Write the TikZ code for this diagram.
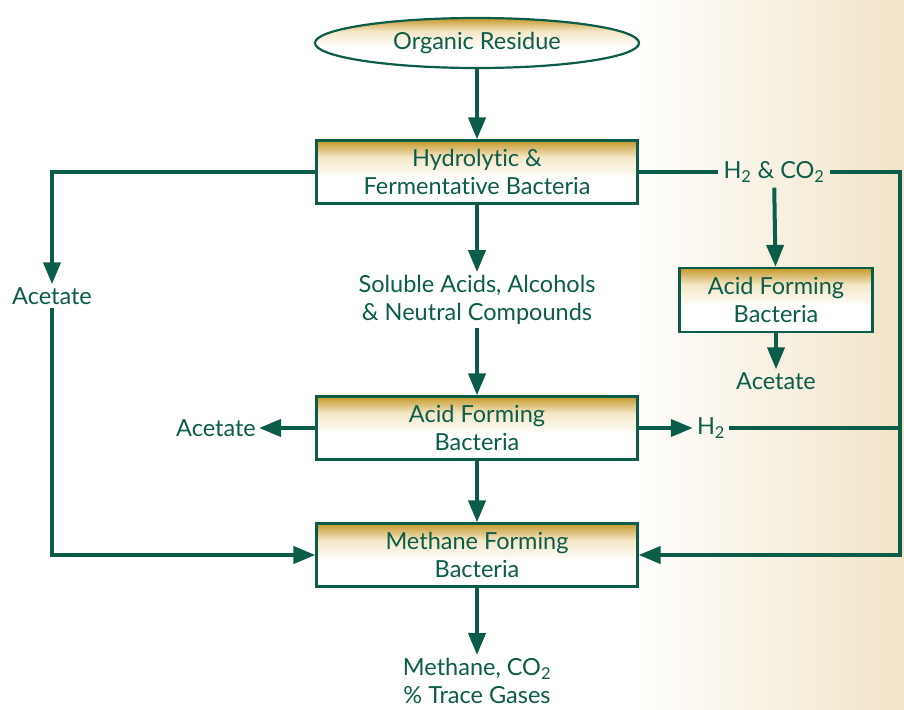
\documentclass[tikz,border=0pt]{standalone}
\usepackage{fontspec}
\setmainfont{Lato}[Ligatures=NoCommon]
\usetikzlibrary{arrows.meta,shapes.geometric}
\definecolor{dg}{RGB}{12,92,74}
\definecolor{gold}{RGB}{196,152,40}
\definecolor{goldlt}{RGB}{236,214,160}
\definecolor{beige}{RGB}{241,228,200}
\pgfdeclareverticalshading{boxshade}{100bp}{color(0bp)=(white); color(45bp)=(white); color(62bp)=(goldlt!60!white); color(75bp)=(gold); color(100bp)=(gold)}
\tikzset{
  txt/.style={text=dg, align=center, font=\fontsize{23.5}{28}\selectfont, inner sep=3pt},
  bac/.style={txt, draw=dg, line width=2.2pt, shading=boxshade, minimum height=63pt},
  arr/.style={draw=dg, line width=4pt, -{Triangle[length=22pt,width=17pt]}},
  ln/.style={draw=dg, line width=4pt},
}
\begin{document}
\begin{tikzpicture}[x=1pt,y=-1pt]
\useasboundingbox (0,0) rectangle (904,709);
\fill[white] (0,0) rectangle (632,709);
\shade[left color=white, right color=beige] (630,0) rectangle (904,709);

\node[txt, draw=dg, line width=2.2pt, shading=boxshade, ellipse, minimum width=324pt, minimum height=50pt, inner sep=0pt] (org) at (477,43) {Organic Residue};
\node[bac, minimum width=321pt] (hyd) at (477,172) {Hydrolytic \&\\Fermentative Bacteria};
\node[txt] (sol) at (477,300) {Soluble Acids, Alcohols\\\& Neutral Compounds};
\node[bac, minimum width=321pt] (af) at (477,428) {Acid Forming\\Bacteria};
\node[bac, minimum width=321pt] (meth) at (477,555) {Methane Forming\\Bacteria};
\node[txt] (gas) at (477,681) {Methane, CO\textsubscript{2}\\\% Trace Gases};

\node[txt] (acl) at (52,296) {Acetate};
\node[txt] (acm) at (216,428) {Acetate};
\node[txt, inner sep=5pt] (hc) at (774,172) {H\textsubscript{2} \& CO\textsubscript{2}};
\node[bac, minimum width=193pt, minimum height=64pt] (af2) at (776,300) {Acid Forming\\Bacteria};
\node[txt] (acr) at (776,381) {Acetate};
\node[txt, inner sep=4pt] (h2) at (711,428) {H\textsubscript{2}};

\coordinate (rtop) at (900,172);
\coordinate (rbot) at (900,555);

\draw[arr] (org) -- (hyd);
\draw[arr] (hyd) -- (sol);
\draw[arr] (sol) -- (af);
\draw[arr] (af) -- (meth);
\draw[arr] (meth.south) -- (gas.north);
\draw[arr] (hyd.west) -| (acl.north);
\draw[arr] (acl.south) |- (meth.west);
\draw[ln] (hyd.east) -- (hc.west);
\draw[arr] (hc.east) -- (rtop) -- (rbot) -- (meth.east);
\draw[arr] (hc) -- (af2);
\draw[arr] (af2) -- (acr);
\draw[arr] (af.west) -- (acm.east);
\draw[arr] (af.east) -- (h2.west);
\draw[ln] (h2.east) -- (h2.east -| rtop);
\end{tikzpicture}
\end{document}
